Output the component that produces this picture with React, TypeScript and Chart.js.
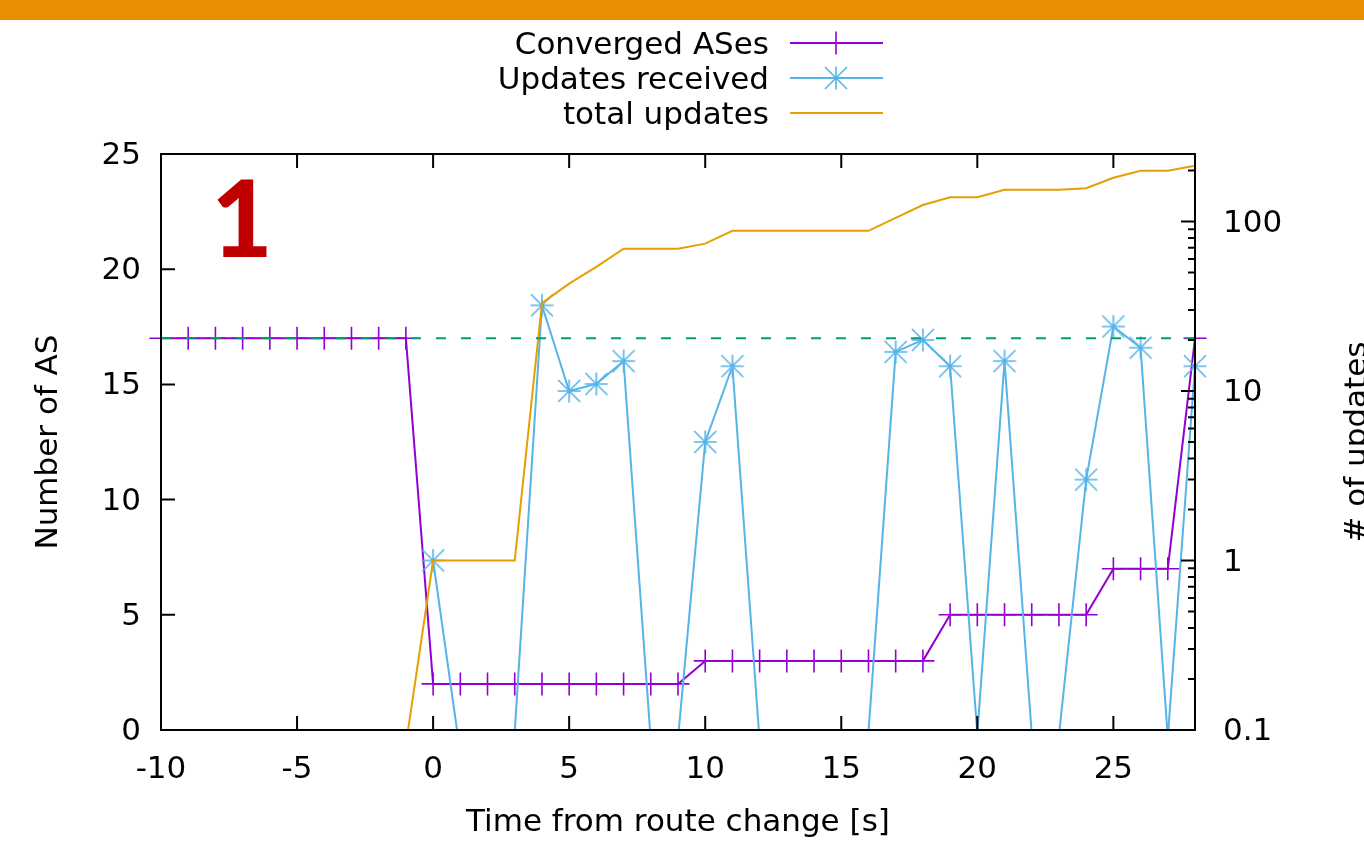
import React, { useEffect, useRef } from 'react';
import { Chart, registerables } from 'chart.js';

Chart.register(...registerables);

// ---- data ----
const timeSec = [-10, -9, -8, -7, -6, -5, -4, -3, -2, -1, 0, 1, 2, 3, 4, 5, 6, 7, 8, 9, 10, 11, 12, 13, 14, 15, 16, 17, 18, 19, 20, 21, 22, 23, 24, 25, 26, 27, 28];

const convergedASes = [17, 17, 17, 17, 17, 17, 17, 17, 17, 17, 2, 2, 2, 2, 2, 2, 2, 2, 2, 2, 3, 3, 3, 3, 3, 3, 3, 3, 3, 5, 5, 5, 5, 5, 5, 7, 7, 7, 17];

// values below 0.1 fall under the log axis floor (zero updates in that second)
const updatesReceived = [null, null, null, null, null, null, null, null, null, null, 1, 0.073, 0.05, 0.098, 32, 10, 11, 15, 0.086, 0.089, 5, 14, 0.086, 0.05, 0.05, 0.05, 0.097, 17, 20, 14, 0.095, 15, 0.095, 0.093, 3, 24, 18, 0.09, 14];

const totalUpdates = [null, null, null, null, null, null, null, null, null, 0.082, 1, 1, 1, 1, 33, 43, 54, 69, 69, 69, 74, 88, 88, 88, 88, 88, 88, 105, 125, 139, 139, 154, 154, 154, 157, 181, 199, 199, 213];

const referenceLevel = 17;
const referenceSpan = [-10, 28];

const xTickValues = [-10, -5, 0, 5, 10, 15, 20, 25];
const leftTickValues = [0, 5, 10, 15, 20, 25];
const rightTickValues = [0.1, 1, 10, 100];
const rightMinorTickValues = [0.2, 0.3, 0.4, 0.5, 0.6, 0.7, 0.8, 0.9, 2, 3, 4, 5, 6, 7, 8, 9, 20, 30, 40, 50, 60, 70, 80, 90, 200];

const seriesLabels = ['Converged ASes', 'Updates received', 'total updates'];
const xTitle = 'Time from route change [s]';
const yTitle = 'Number of AS';
const y2Title = '# of updates';
const panelLabel = '1';

// ---- styles ----
const PURPLE = '#9400d3';
const BLUE = '#56b4e9';
const ORANGE = '#e69f00';
const GREEN = '#009e73';
const BAR = '#e98e00';
const FONT = '"DejaVu Sans", "Noto Sans", sans-serif';
const FS = 31;

function makeStar(color: string) {
  const c = document.createElement('canvas');
  c.width = 26;
  c.height = 26;
  const g = c.getContext('2d')!;
  g.strokeStyle = color;
  g.lineWidth = 1.6;
  const m = 13, r = 11.5, d = 11;
  g.beginPath();
  g.moveTo(m - r, m); g.lineTo(m + r, m);
  g.moveTo(m, m - r); g.lineTo(m, m + r);
  g.moveTo(m - d, m - d); g.lineTo(m + d, m + d);
  g.moveTo(m - d, m + d); g.lineTo(m + d, m - d);
  g.stroke();
  return c;
}

export default function App() {
  const ref = useRef<HTMLCanvasElement | null>(null);

  useEffect(() => {
    if (!ref.current) return;
    const star = makeStar(BLUE);

    const framePlugin = {
      id: 'gnuplotFrame',
      beforeDraw(chart: any) {
        const ctx = chart.ctx;
        ctx.save();
        ctx.fillStyle = '#ffffff';
        ctx.fillRect(0, 0, chart.width, chart.height);
        ctx.fillStyle = BAR;
        ctx.fillRect(0, 0, chart.width, 20);
        ctx.restore();
      },
      afterDraw(chart: any) {
        const { ctx, chartArea: a, scales } = chart;
        ctx.save();
        // ticks
        ctx.strokeStyle = '#000';
        ctx.lineWidth = 2;
        ctx.beginPath();
        scales.x.ticks.forEach((t: any) => {
          const px = scales.x.getPixelForValue(t.value);
          ctx.moveTo(px, a.bottom); ctx.lineTo(px, a.bottom - 14);
          ctx.moveTo(px, a.top); ctx.lineTo(px, a.top + 14);
        });
        scales.y.ticks.forEach((t: any) => {
          const py = scales.y.getPixelForValue(t.value);
          ctx.moveTo(a.left, py); ctx.lineTo(a.left + 14, py);
        });
        rightTickValues.forEach((v) => {
          const py = scales.y2.getPixelForValue(v);
          ctx.moveTo(a.right, py); ctx.lineTo(a.right - 14, py);
        });
        rightMinorTickValues.forEach((v) => {
          const py = scales.y2.getPixelForValue(v);
          ctx.moveTo(a.right, py); ctx.lineTo(a.right - 7, py);
        });
        ctx.stroke();
        // frame
        ctx.lineWidth = 2;
        ctx.strokeRect(a.left, a.top, a.right - a.left, a.bottom - a.top);

        // panel label
        ctx.fillStyle = '#c00000';
        ctx.font = '900 106px Lato, ' + FONT;
        ctx.textAlign = 'center';
        ctx.textBaseline = 'alphabetic';
        ctx.fillText(panelLabel, 242, 257);

        // right axis title (reads bottom to top)
        ctx.save();
        ctx.translate(chart.width - 8, (a.top + a.bottom) / 2);
        ctx.rotate(-Math.PI / 2);
        ctx.font = FS + 'px ' + FONT;
        ctx.fillStyle = '#000';
        ctx.textAlign = 'center';
        ctx.textBaseline = 'middle';
        ctx.fillText(y2Title, 0, 2);
        ctx.restore();

        // legend
        const rows = [43, 78, 113];
        const colors = [PURPLE, BLUE, ORANGE];
        ctx.font = FS + 'px ' + FONT;
        ctx.textAlign = 'right';
        ctx.textBaseline = 'alphabetic';
        seriesLabels.forEach((label, i) => {
          const y = rows[i];
          ctx.fillStyle = '#000';
          ctx.fillText(label, 769, y + 11);
          ctx.strokeStyle = colors[i];
          ctx.lineWidth = 2;
          ctx.beginPath();
          ctx.moveTo(790, y); ctx.lineTo(883, y);
          ctx.stroke();
          if (i === 0) {
            ctx.lineWidth = 1.6;
            ctx.beginPath();
            ctx.moveTo(836 - 11.5, y); ctx.lineTo(836 + 11.5, y);
            ctx.moveTo(836, y - 11.5); ctx.lineTo(836, y + 11.5);
            ctx.stroke();
          } else if (i === 1) {
            ctx.drawImage(star, 836 - 13, y - 13);
          }
        });
        ctx.restore();
      },
    };

    const tickFont = { family: FONT, size: FS, lineHeight: 1.2 };

    const chart = new Chart(ref.current, {
      type: 'line',
      data: {
        datasets: [
          {
            label: seriesLabels[0],
            data: timeSec.map((t, i) => ({ x: t, y: convergedASes[i] })),
            yAxisID: 'y',
            borderColor: PURPLE,
            backgroundColor: PURPLE,
            borderWidth: 2,
            pointStyle: 'cross',
            pointRadius: 11.5,
            pointBorderWidth: 1.6,
            pointBorderColor: PURPLE,
            tension: 0,
            clip: false,
            order: 4,
          } as any,
          {
            label: seriesLabels[1],
            data: timeSec.map((t, i) => ({ x: t, y: updatesReceived[i] })),
            yAxisID: 'y2',
            borderColor: BLUE,
            backgroundColor: BLUE,
            borderWidth: 2,
            pointStyle: star,
            pointRadius: (c: any) => (c.raw && c.raw.y !== null && c.raw.y >= 0.1 ? 12 : 0),
            tension: 0,
            spanGaps: false,
            clip: { left: 15, top: 15, right: 15, bottom: 0 },
            order: 3,
          } as any,
          {
            label: seriesLabels[2],
            data: timeSec.map((t, i) => ({ x: t, y: totalUpdates[i] })),
            yAxisID: 'y2',
            borderColor: ORANGE,
            backgroundColor: ORANGE,
            borderWidth: 2,
            pointRadius: 0,
            tension: 0,
            spanGaps: false,
            clip: { left: 0, top: 0, right: 0, bottom: 0 },
            order: 2,
          } as any,
          {
            label: 'reference',
            data: referenceSpan.map((t) => ({ x: t, y: referenceLevel })),
            yAxisID: 'y',
            borderColor: GREEN,
            borderWidth: 2,
            borderDash: [10, 15],
            pointRadius: 0,
            tension: 0,
            clip: false,
            order: 1,
          } as any,
        ],
      },
      options: {
        animation: false,
        responsive: false,
        devicePixelRatio: 1,
        layout: { padding: { top: 154, left: 0, right: 0, bottom: 0 } },
        plugins: { legend: { display: false }, tooltip: { enabled: false } },
        events: [],
        scales: {
          x: {
            type: 'linear',
            position: 'bottom',
            min: -10,
            max: 28,
            afterBuildTicks: (s: any) => { s.ticks = xTickValues.map((v) => ({ value: v })); },
            afterFit: (s: any) => { s.height = 116; },
            grid: { display: false, drawTicks: false, tickLength: 0 },
            border: { display: false },
            ticks: { font: tickFont, color: '#000', padding: 21, maxRotation: 0, autoSkip: false, callback: (v: any) => String(v) },
            title: { display: true, text: xTitle, font: tickFont, color: '#000', padding: { top: 0, bottom: 4 } },
          },
          y: {
            type: 'linear',
            position: 'left',
            min: 0,
            max: 25,
            afterBuildTicks: (s: any) => { s.ticks = leftTickValues.map((v) => ({ value: v })); },
            afterFit: (s: any) => { s.width = 161; },
            grid: { display: false, drawTicks: false, tickLength: 0 },
            border: { display: false },
            ticks: { font: tickFont, color: '#000', padding: 20, labelOffset: 2, autoSkip: false, callback: (v: any) => String(v) },
            title: { display: true, text: yTitle, font: tickFont, color: '#000', padding: { top: 30, bottom: 0 } },
          },
          y2: {
            type: 'logarithmic',
            position: 'right',
            min: 0.1,
            max: 250,
            afterBuildTicks: (s: any) => { s.ticks = rightTickValues.map((v) => ({ value: v })); },
            afterFit: (s: any) => { s.width = 169; },
            grid: { display: false, drawTicks: false, tickLength: 0 },
            border: { display: false },
            ticks: { font: tickFont, color: '#000', padding: 28, labelOffset: 2, autoSkip: false, callback: (v: any) => String(v) },
          },
        },
      } as any,
      plugins: [framePlugin],
    });

    return () => chart.destroy();
  }, []);

  return (
    <div style={{ position: 'fixed', left: 0, top: 0, width: 1364, height: 846, background: '#fff' }}>
      <canvas ref={ref} width={1364} height={846} style={{ display: 'block', width: 1364, height: 846 }} />
    </div>
  );
}
